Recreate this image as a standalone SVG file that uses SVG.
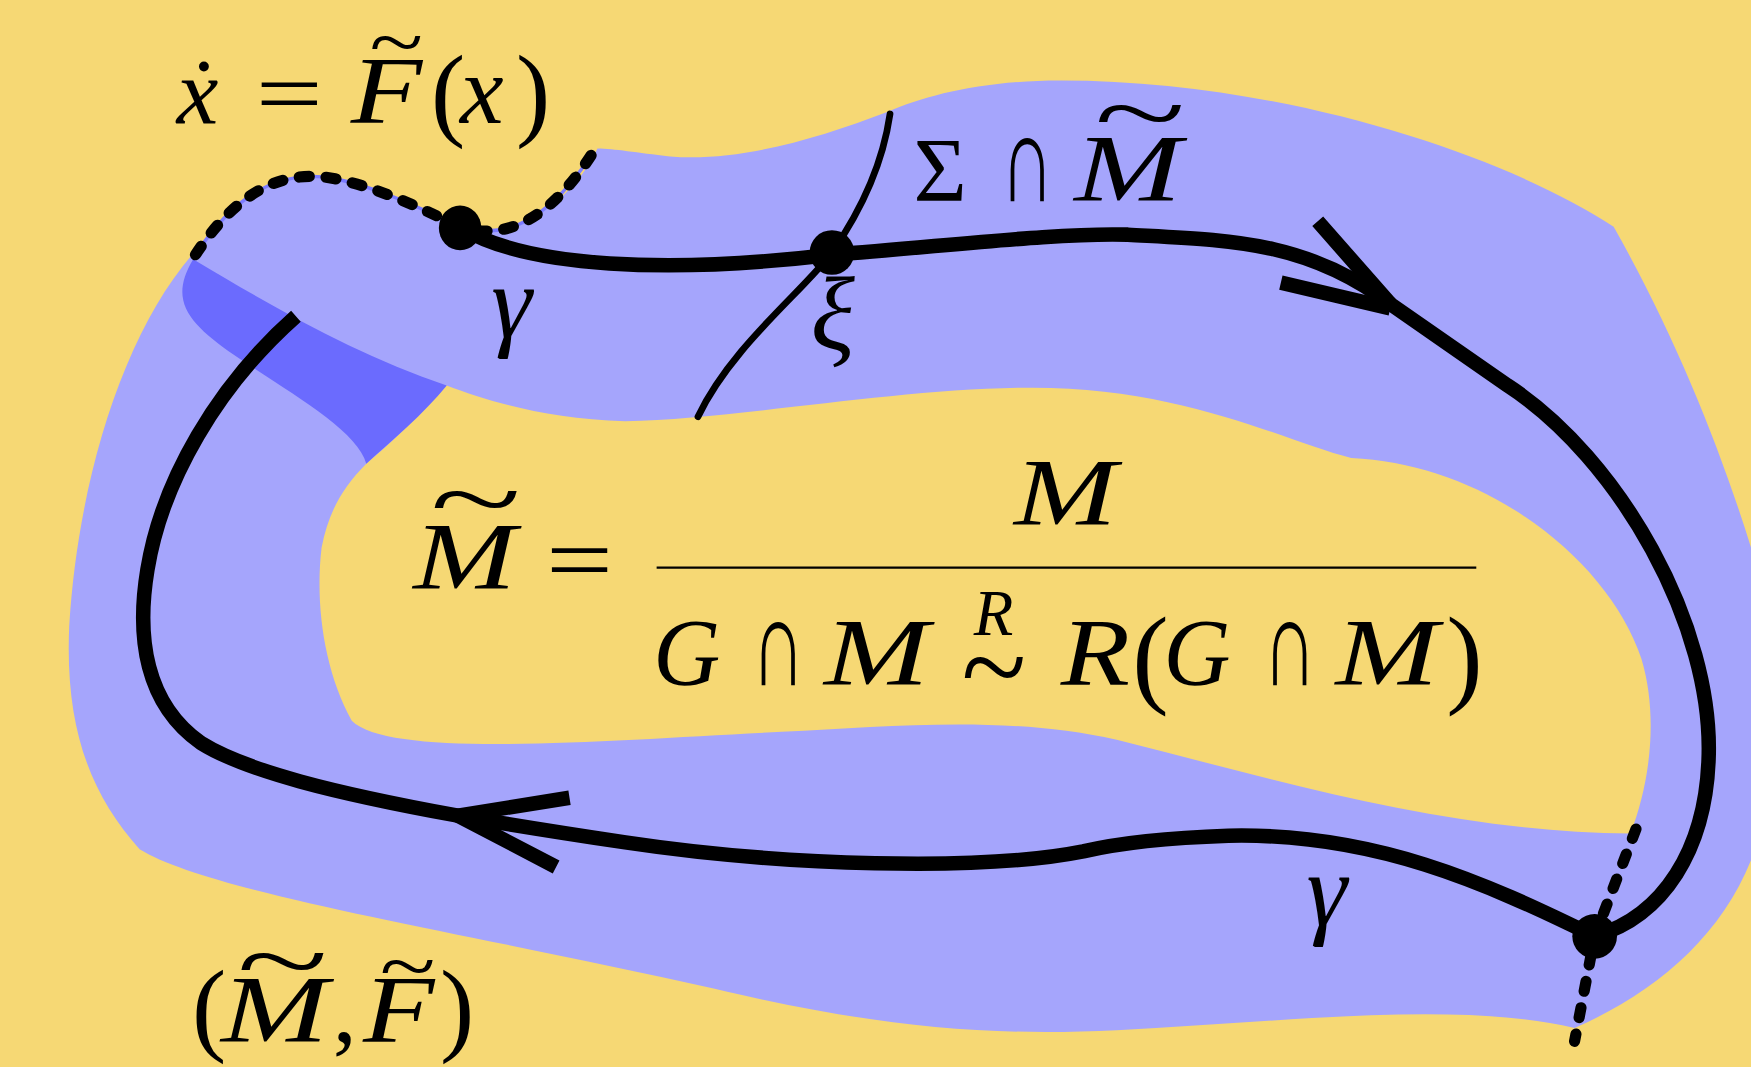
<svg xmlns="http://www.w3.org/2000/svg" width="1751" height="1067" viewBox="0 0 1751 1067">
<style>
.it{font-family:"Liberation Serif","DejaVu Serif",serif;font-style:italic;fill:#000}
.rm{font-family:"Liberation Serif","DejaVu Serif",serif;fill:#000}
.thick{fill:none;stroke:#000;stroke-width:13}
.dash{fill:none;stroke:#000;stroke-width:10;stroke-dasharray:9 15;stroke-linecap:round}
</style>
<rect width="1751" height="1067" fill="#F6D874"/>
<g transform="scale(1.11671,1.11728)">
<g id="regions">
<path id="outer-region" fill="#A5A5FC" d="M172,228 C110,300 70,430 62,560 C58,650 80,710 125,760 C190,800 420,835 640,885 C780,918 880,928 1000,922 C1150,915 1300,895 1410,920 C1480,890 1540,840 1568,770 L1568,490 C1540,400 1500,300 1445,203 C1350,140 1150,72 950,72 C880,72 830,85 795,100 C730,125 660,145 600,140 C570,137 550,133 535,133 C520,165 490,195 450,205 C430,208 415,203 412,203 C360,180 320,160 285,158 C240,156 200,190 172,228 Z"/>
<path id="inner-hole" fill="#F6D874" d="M328,415 C360,388 385,362 400,345 C440,360 490,375 560,377 C660,375 800,348 920,347 C1060,346 1150,395 1210,410 C1330,415 1440,500 1470,590 C1485,640 1478,700 1460,746 C1300,745 1150,700 1000,662 C900,640 800,650 700,655 C550,662 350,680 315,645 C290,600 282,540 288,490 C294,460 305,438 328,415 Z"/>
<path id="dark-band" fill="#6B6BFE" d="M173,232 C150,270 170,290 210,318 C260,352 320,385 328,415 C350,395 380,370 400,345 C320,318 250,278 173,232 Z"/>
</g>
<g id="connectors">
<path id="top-edge" d="M175,228 C210,175 250,150 300,160 C340,168 380,188 412,203 C450,215 490,200 530,138" fill="none" stroke="#7B7BFF" stroke-width="3"/>
<path class="dash" d="M175,228 C210,175 250,150 300,160 C340,168 380,188 412,203 C450,215 490,200 530,138"/>
<path class="dash" d="M1465,742 L1428,838 L1410,932"/>
<path id="gamma-curve" class="thick" d="M412,203 C470,240 600,245 745,228 C850,220 950,208 1010,210 C1100,215 1170,215 1245,272 L1350,345 C1450,410 1535,560 1530,680 C1527,760 1490,820 1428,838 C1330,790 1230,745 1100,748 C1040,750 1000,755 970,762 C880,780 700,775 560,754 C500,745 450,737 410,730 C300,710 220,690 180,665 C130,630 122,570 132,510 C145,430 195,345 265,283"/>
<path class="thick" d="M1180,198 L1245,272 M1147,253 L1245,276"/>
<path class="thick" d="M510,714 L410,730 L498,776"/>
<path id="xi-curve" d="M797,102 C790,150 770,190 745,226 C720,260 655,310 625,373" fill="none" stroke="#000" stroke-width="6" stroke-linecap="round"/>
<ellipse cx="412" cy="204" rx="19" ry="20"/>
<ellipse cx="745" cy="226" rx="20" ry="20"/>
<ellipse cx="1428" cy="838" rx="20" ry="20"/>
</g>
<g id="labels">
<g id="label-ode">
<text class="it" x="158" y="110" font-size="84">ẋ</text>
<text class="rm" x="229" y="110" font-size="80" textLength="60" lengthAdjust="spacingAndGlyphs">=</text>
<text class="it" x="314" y="110" font-size="86" textLength="64" lengthAdjust="spacingAndGlyphs">F</text>
<text class="rm" x="331" y="61" font-size="70" textLength="48" lengthAdjust="spacingAndGlyphs">~</text>
<text class="rm" x="386" y="114" font-size="92">(</text>
<text class="it" x="412" y="110" font-size="88">x</text>
<text class="rm" x="462" y="114" font-size="92">)</text>
</g>
<g id="label-section">
<text class="rm" x="818" y="180" font-size="82">Σ</text>
<text class="rm" x="896" y="180" font-size="112" textLength="48" lengthAdjust="spacingAndGlyphs">∩</text>
<text class="it" x="962" y="180" font-size="86" textLength="96" lengthAdjust="spacingAndGlyphs">M</text>
<text class="rm" x="980" y="131" font-size="90" textLength="82" lengthAdjust="spacingAndGlyphs">~</text>
</g>
<text class="it" x="440" y="302" font-size="92">γ</text>
<text class="it" x="726" y="312" font-size="92">ξ</text>
<text class="it" x="1170" y="828" font-size="92">γ</text>
<g id="label-quotient">
<text class="it" x="370" y="527" font-size="86" textLength="92" lengthAdjust="spacingAndGlyphs">M</text>
<text class="rm" x="385" y="476" font-size="90" textLength="82" lengthAdjust="spacingAndGlyphs">~</text>
<text class="rm" x="489" y="530" font-size="86" textLength="60" lengthAdjust="spacingAndGlyphs">=</text>
<text class="it" x="908" y="470" font-size="86" textLength="92" lengthAdjust="spacingAndGlyphs">M</text>
<line x1="588" y1="508" x2="1322" y2="508" stroke="#000" stroke-width="2"/>
<text class="it" x="585" y="613" font-size="86" textLength="60" lengthAdjust="spacingAndGlyphs">G</text>
<text class="rm" x="673" y="613" font-size="112" textLength="48" lengthAdjust="spacingAndGlyphs">∩</text>
<text class="it" x="738" y="613" font-size="86" textLength="94" lengthAdjust="spacingAndGlyphs">M</text>
<text class="it" x="872" y="568" font-size="58">R</text>
<text class="rm" x="861" y="634" font-size="110" textLength="58" lengthAdjust="spacingAndGlyphs">~</text>
<text class="it" x="950" y="613" font-size="86" textLength="62" lengthAdjust="spacingAndGlyphs">R</text>
<text class="rm" x="1014" y="620" font-size="98">(</text>
<text class="it" x="1042" y="613" font-size="86" textLength="60" lengthAdjust="spacingAndGlyphs">G</text>
<text class="rm" x="1131" y="613" font-size="112" textLength="48" lengthAdjust="spacingAndGlyphs">∩</text>
<text class="it" x="1196" y="613" font-size="86" textLength="92" lengthAdjust="spacingAndGlyphs">M</text>
<text class="rm" x="1295" y="620" font-size="98">)</text>
</g>
<g id="label-pair">
<text class="rm" x="172" y="933" font-size="92">(</text>
<text class="it" x="198" y="933" font-size="86" textLength="96" lengthAdjust="spacingAndGlyphs">M</text>
<text class="rm" x="212" y="890" font-size="90" textLength="82" lengthAdjust="spacingAndGlyphs">~</text>
<text class="rm" x="298" y="933" font-size="86">,</text>
<text class="it" x="325" y="933" font-size="86" textLength="64" lengthAdjust="spacingAndGlyphs">F</text>
<text class="rm" x="340" y="888" font-size="70" textLength="50" lengthAdjust="spacingAndGlyphs">~</text>
<text class="rm" x="394" y="933" font-size="92">)</text>
</g>
</g>
</g>
</svg>
